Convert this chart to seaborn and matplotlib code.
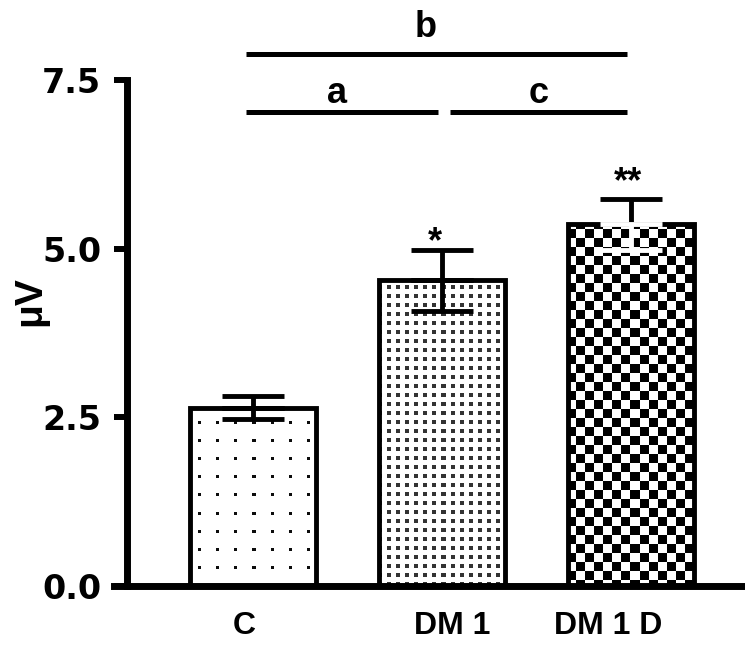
import numpy as np
import pandas as pd
import matplotlib
matplotlib.use("Agg")
import matplotlib.pyplot as plt
import matplotlib.transforms as mtransforms
import seaborn as sns

# data
groups = ["C", "DM 1", "DM 1 D"]
means = [2.64, 4.53, 5.36]
sems = [0.17, 0.45, 0.38]
stars = ["", "*", "**"]
y_ticks = [0.0, 2.5, 5.0, 7.5]

# significance brackets: (from, to, letter, height)
cmp_from = [0, 1, 0]
cmp_to = [1, 2, 2]
cmp_letter = ["a", "c", "b"]
cmp_height = [7.03, 7.03, 7.89]

sns.set_style("ticks")
plt.rcParams["font.family"] = ["Liberation Sans", "DejaVu Sans"]
plt.rcParams["font.weight"] = "bold"
for key in ["text.color", "axes.edgecolor", "axes.labelcolor", "xtick.color", "ytick.color"]:
    plt.rcParams[key] = "black"

df = pd.DataFrame({"group": groups, "value": means})

fig = plt.figure(figsize=(7.45, 6.45), dpi=100)
ax = fig.add_axes([127 / 745, 1 - 586 / 645, (745 - 127) / 745, (586 - 80) / 645])

sns.barplot(data=df, x="group", y="value", color="white", width=0.667,
            errorbar=None, ax=ax, zorder=2)

ax.set_xlim(-0.667, 2.603)
ax.set_ylim(0, 7.5)

bars = list(ax.patches)
for b in bars:
    b.set_facecolor("none")
    b.set_edgecolor("black")
    b.set_linewidth(3.5)


def pattern(kind, h, w, x0, y0):
    yy, xx = np.mgrid[0:h, 0:w]
    yy = yy + y0
    xx = xx + x0
    img = np.ones((h, w))
    if kind == "sparse":
        img[((xx % 18) < 3) & ((yy % 18) < 3)] = 0.05
    elif kind == "dense":
        img[((xx % 9) < 4) & ((yy % 9) < 4)] = 0.2
    else:
        img[((xx // 9) + (yy // 9)) % 2 == 0] = 0.0
    return img


kinds = ["sparse", "dense", "checker"]
for b, kind in zip(bars, kinds):
    ext = b.get_window_extent()
    w = int(round(ext.width))
    h = int(round(ext.height))
    img = pattern(kind, h, w, int(ext.x0), int(ext.y0))
    x0 = b.get_x()
    im = ax.imshow(img, extent=(x0, x0 + b.get_width(), b.get_y(), b.get_y() + b.get_height()),
                   cmap="gray", vmin=0, vmax=1, interpolation="nearest",
                   aspect="auto", zorder=1)
    im.set_clip_path(b)

ax.set_xlim(-0.667, 2.603)
ax.set_ylim(0, 7.5)

# error bars: upper whiskers in black, lower whiskers in the colour the original shows
lower_colors = ["black", "black", "white"]
xpos = np.arange(len(groups))
ax.errorbar(xpos, means, yerr=[np.zeros(len(sems)), sems], fmt="none", ecolor="black",
            elinewidth=3.5, capsize=22, capthick=3.5, zorder=3)
for i, c in enumerate(lower_colors):
    ax.errorbar(xpos[i], means[i], yerr=[[sems[i]], [0]], fmt="none", ecolor=c,
                elinewidth=3.5, capsize=22, capthick=3.5, zorder=3)

star_dx = [0, -5, -2]
star_dy = [0, -7, -1]
for i, s in enumerate(stars):
    if s:
        ax.annotate(s, (xpos[i], means[i] + sems[i]), xytext=(star_dx[i], star_dy[i]),
                    textcoords="offset points", ha="center", va="bottom",
                    fontsize=26, fontweight="bold")

letter_dx = [-4, 0, -8]
letter_dy = [6, 6, 12]
for k, (i, j, lab, hgt) in enumerate(zip(cmp_from, cmp_to, cmp_letter, cmp_height)):
    xs = i + (0.04 if i > 0 else -0.035)
    xe = j - 0.02
    ax.plot([xs, xe], [hgt, hgt], color="black", lw=3.6, clip_on=False,
            solid_capstyle="butt")
    ax.annotate(lab, ((xs + xe) / 2, hgt), xytext=(letter_dx[k], letter_dy[k]),
                textcoords="offset points", ha="center", va="baseline",
                fontsize=26, fontweight="bold", annotation_clip=False)

ax.set_yticks(y_ticks)
ax.set_yticklabels([f"{t:.1f}" for t in y_ticks])
ax.tick_params(axis="y", length=9.5, width=4.3, pad=9, labelsize=24)
ax.tick_params(axis="x", length=0, pad=18, labelsize=23)
for lbl in ax.get_xticklabels():
    lbl.set_fontweight("bold")
for lbl in ax.get_yticklabels():
    lbl.set_fontweight("bold")
    lbl.set_family("DejaVu Sans")

ax.set_xlabel("")
ax.set_ylabel("")
ax.text(30 / 745, 1 - 301 / 645, "μV", transform=fig.transFigure, rotation=90,
        ha="center", va="center", fontsize=28, fontweight="bold")

for side in ["top", "right"]:
    ax.spines[side].set_visible(False)
for side in ["left", "bottom"]:
    ax.spines[side].set_linewidth(5)

# the x axis line runs on to the left edge of the 0.0 tick
ax.spines["bottom"].set_bounds(-0.667 - 13 / 189, 2.603)

x_shift = [-6.5, 7.2, -16.5]
for lbl, dx in zip(ax.get_xticklabels(), x_shift):
    lbl.set_transform(lbl.get_transform() + mtransforms.ScaledTranslation(dx / 72, 0, fig.dpi_scale_trans))

fig.savefig("out.png", dpi=100)
